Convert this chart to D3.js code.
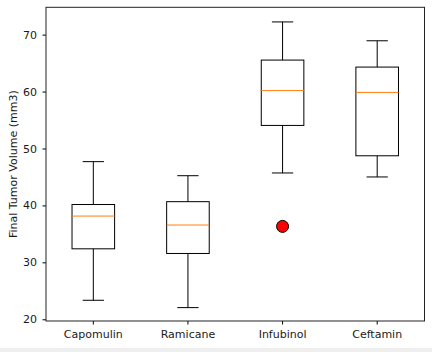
<!DOCTYPE html>
<html>
<head>
<meta charset="utf-8">
<script src="https://cdn.jsdelivr.net/npm/d3@7"></script>
<style>
  body { margin: 0; background: #fff; }
  svg { display: block; }
  text { font-family: "DejaVu Sans", sans-serif; fill: #000; }
</style>
</head>
<body>
<svg width="432" height="352"></svg>
<script>
// box stats
var drugs = ['Capomulin', 'Ramicane', 'Infubinol', 'Ceftamin'];
var whiskLo = [23.34, 22.05, 45.70, 45.00];
var q1 = [32.38, 31.56, 54.05, 48.72];
var median = [38.13, 36.56, 60.17, 59.85];
var q3 = [40.16, 40.66, 65.53, 64.30];
var whiskHi = [47.69, 45.22, 72.23, 68.92];
var outliers = [[], [], [36.32], []];
var yTicks = [20, 30, 40, 50, 60, 70];

var svg = d3.select('svg');
var margin = { left: 46, right: 7.5, top: 7.3, bottom: 31 };
var width = 432 - margin.left - margin.right;
var height = 352 - margin.top - margin.bottom;

// strip at the bottom of the output cell
svg.append('rect')
  .attr('x', 0).attr('y', 348)
  .attr('width', 432).attr('height', 4)
  .attr('fill', '#eeeeee');

var g = svg.append('g')
  .attr('transform', 'translate(' + margin.left + ',' + margin.top + ')');

var x = d3.scaleBand()
  .domain(drugs)
  .range([0, width]);

var y = d3.scaleLinear()
  .domain([19.7, 74.8])
  .range([height, 0]);

var boxW = x.bandwidth() * 0.45;
var capW = boxW / 2;

var boxes = g.selectAll('g.box')
  .data(drugs)
  .enter()
  .append('g')
    .attr('class', 'box')
    .attr('transform', d => 'translate(' + (x(d) + x.bandwidth() / 2) + ',0)');

// whiskers
boxes.append('line')
  .attr('y1', (d, i) => y(whiskLo[i]))
  .attr('y2', (d, i) => y(q1[i]))
  .attr('stroke', '#000').attr('stroke-width', 1);
boxes.append('line')
  .attr('y1', (d, i) => y(q3[i]))
  .attr('y2', (d, i) => y(whiskHi[i]))
  .attr('stroke', '#000').attr('stroke-width', 1);

// caps
boxes.append('line')
  .attr('x1', -capW / 2).attr('x2', capW / 2)
  .attr('y1', (d, i) => y(whiskLo[i]))
  .attr('y2', (d, i) => y(whiskLo[i]))
  .attr('stroke', '#000').attr('stroke-width', 1);
boxes.append('line')
  .attr('x1', -capW / 2).attr('x2', capW / 2)
  .attr('y1', (d, i) => y(whiskHi[i]))
  .attr('y2', (d, i) => y(whiskHi[i]))
  .attr('stroke', '#000').attr('stroke-width', 1);

// box
boxes.append('rect')
  .attr('x', -boxW / 2)
  .attr('width', boxW)
  .attr('y', (d, i) => y(q3[i]))
  .attr('height', (d, i) => y(q1[i]) - y(q3[i]))
  .attr('fill', 'none')
  .attr('stroke', '#000').attr('stroke-width', 1);

// median
boxes.append('line')
  .attr('x1', -boxW / 2).attr('x2', boxW / 2)
  .attr('y1', (d, i) => y(median[i]))
  .attr('y2', (d, i) => y(median[i]))
  .attr('stroke', '#ff7f0e').attr('stroke-width', 1);

// fliers
boxes.each(function(d, i) {
  d3.select(this).selectAll('circle')
    .data(outliers[i])
    .enter()
    .append('circle')
      .attr('cx', 0)
      .attr('cy', v => y(v))
      .attr('r', 6)
      .attr('fill', '#ff0000')
      .attr('stroke', '#000')
      .attr('stroke-width', 1);
});

// axes
var xAxis = g.append('g')
  .attr('transform', 'translate(0,' + height + ')')
  .call(d3.axisBottom(x).tickSize(3.5).tickPadding(6));
var yAxis = g.append('g')
  .call(d3.axisLeft(y).tickValues(yTicks).tickSize(3.5).tickPadding(5.5));

[xAxis, yAxis].forEach(a => {
  a.select('.domain').remove();
  a.selectAll('text').style('font-size', '11px').style('font-family', '"DejaVu Sans", sans-serif').style('fill', '#1a1a1a');
  a.selectAll('line').attr('stroke', '#000');
});

// frame
g.append('rect')
  .attr('width', width).attr('height', height)
  .attr('fill', 'none')
  .attr('stroke', '#222').attr('stroke-width', 1);

svg.append('text')
  .attr('transform', 'translate(13,' + (margin.top + height / 2) + ') rotate(-90)')
  .attr('text-anchor', 'middle')
  .attr('dy', '0.35em')
  .style('font-size', '11px')
  .style('fill', '#1a1a1a')
  .text('Final Tumor Volume (mm3)');
</script>
</body>
</html>
